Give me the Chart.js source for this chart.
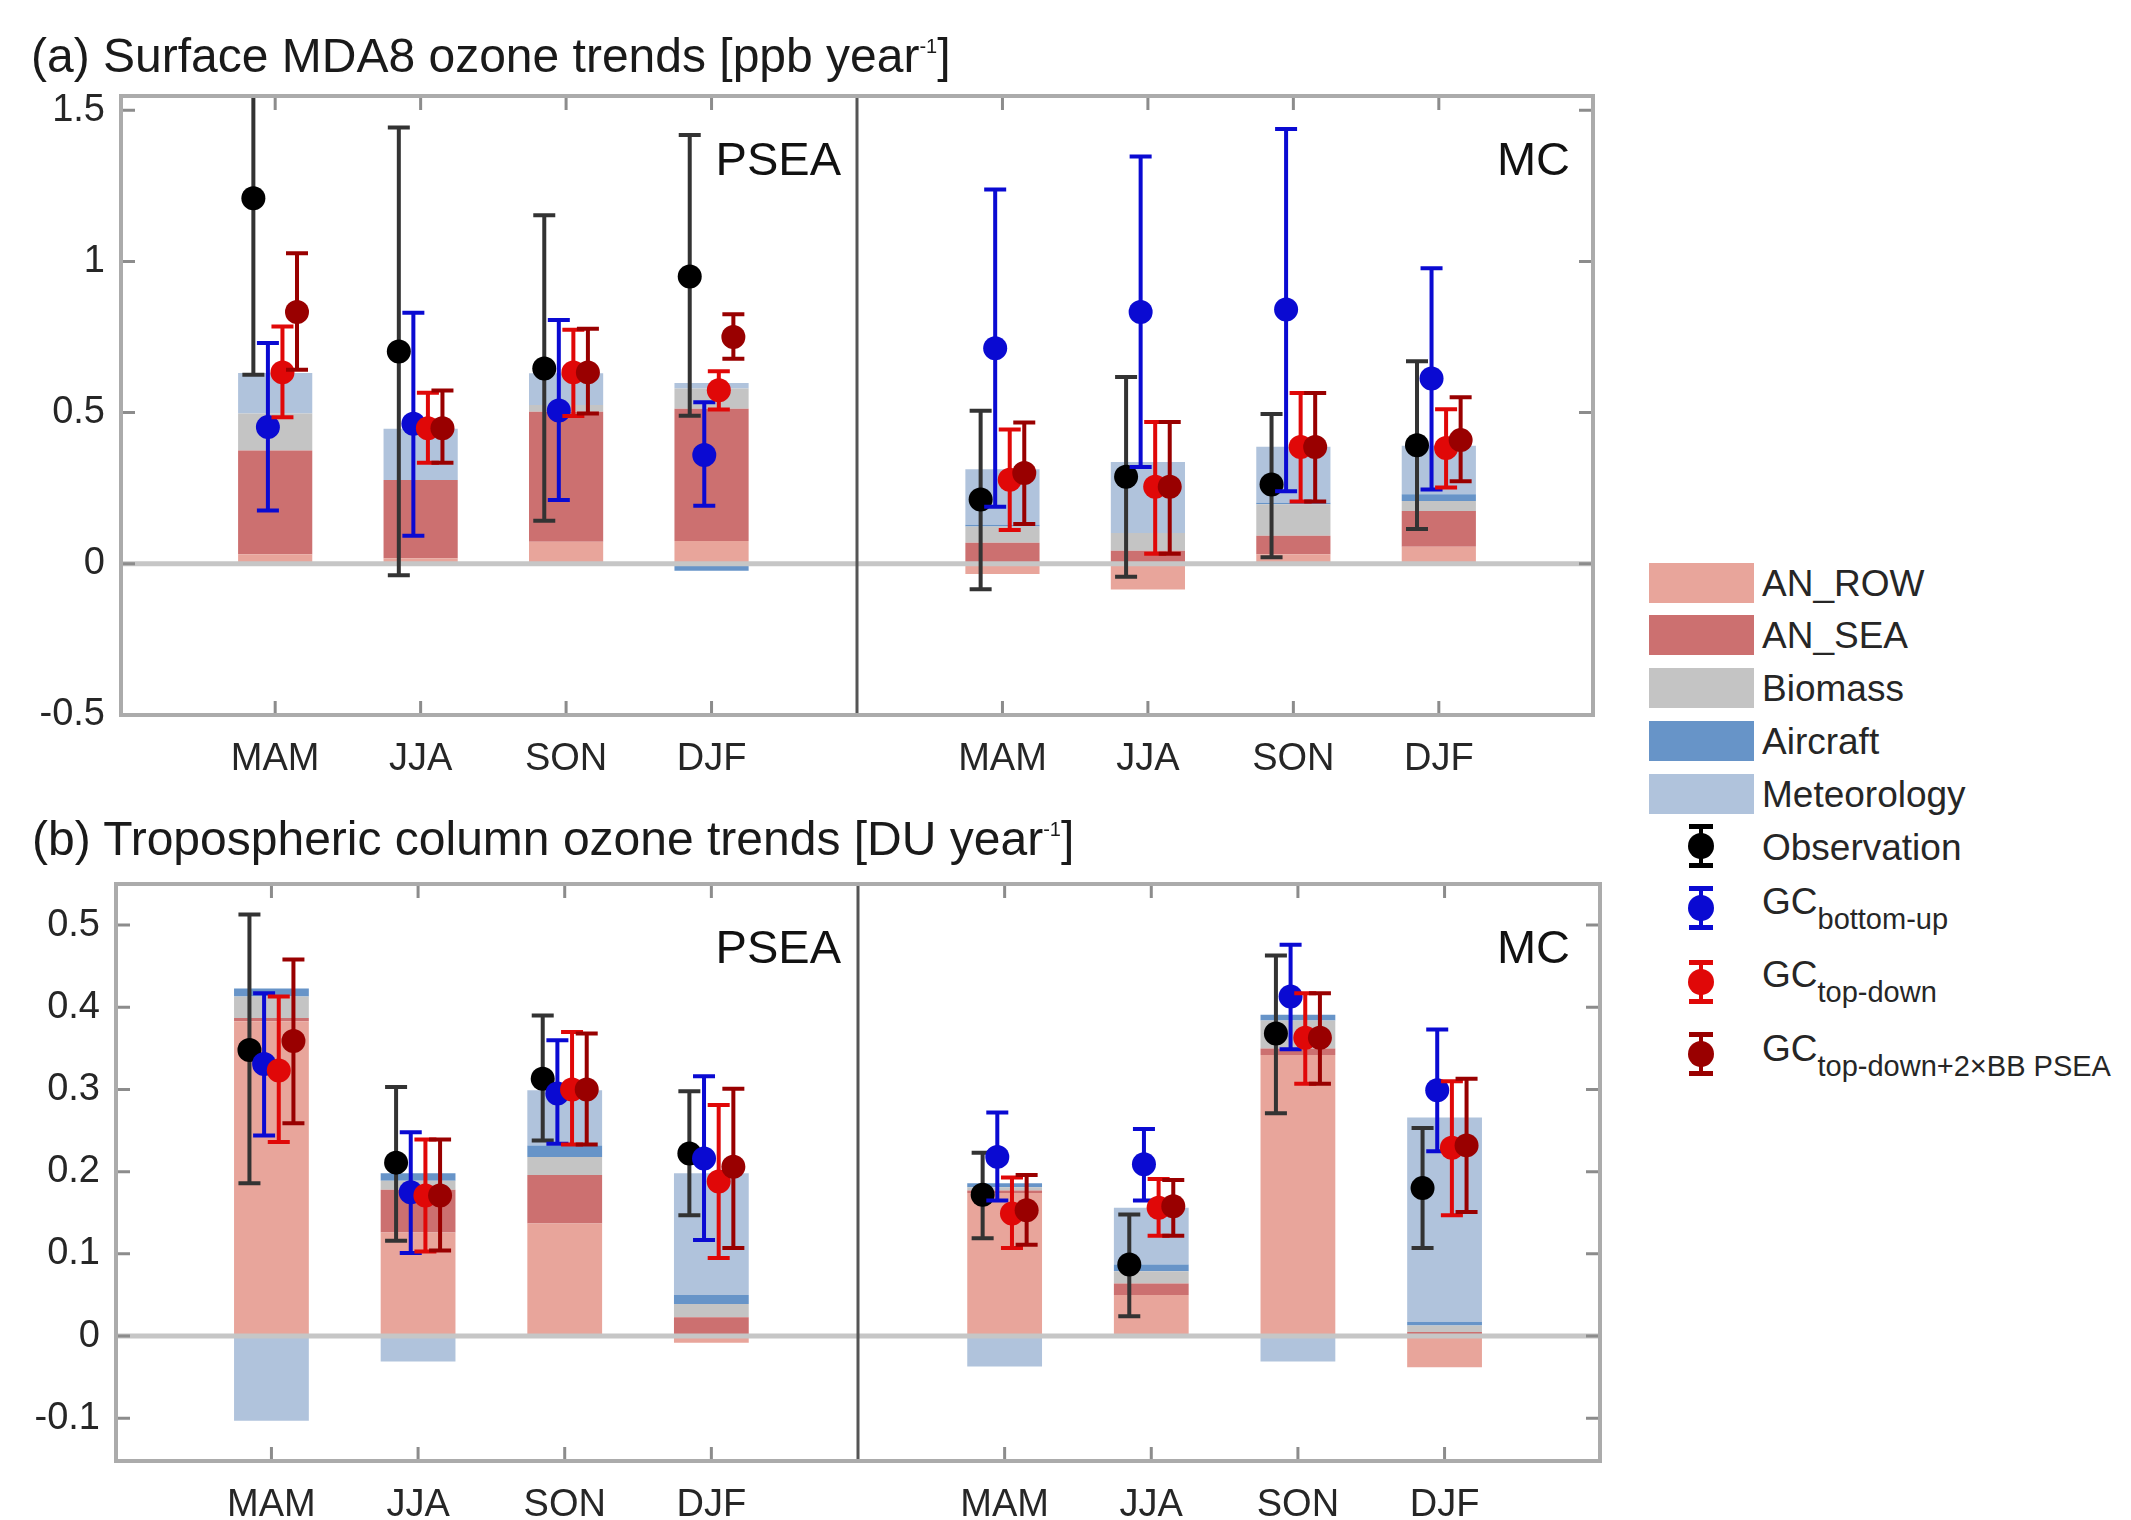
<!DOCTYPE html>
<html>
<head>
<meta charset="utf-8">
<script src="https://cdn.jsdelivr.net/npm/chart.js@4.4.0/dist/chart.umd.min.js"></script>
<style>
body{margin:0;width:2131px;height:1520px;background:#fff;position:relative;overflow:hidden;font-family:"Liberation Sans",Arial,sans-serif;color:#262626}
canvas{position:absolute;left:0}
.t{position:absolute;white-space:nowrap;line-height:1}
.ttl{font-size:48px;color:#1a1a1a}
.ttl span{font-size:20px;position:relative;top:-19px}
.reg{font-size:47px;color:#111}
.sw{position:absolute;left:1649px;width:105px;height:40px}
.lt{position:absolute;left:1762px;font-size:37px;line-height:1;white-space:nowrap}
.lt span{font-size:29px;position:relative;top:15px}
.eb{position:absolute;left:1688px;width:26px;height:44px}
.eb .v{position:absolute;left:11px;top:0;width:4px;height:100%;background:currentColor}
.eb .c{position:absolute;left:1px;width:24px;height:5px;background:currentColor}
.eb .d{position:absolute;left:0;top:9px;width:26px;height:26px;border-radius:50%;background:currentColor}
</style>
</head>
<body>
<canvas id="chartA" width="1640" height="800" style="top:0"></canvas>
<canvas id="chartB" width="1640" height="720" style="top:800px"></canvas>

<div class="t ttl" style="left:31px;top:32px">(a) Surface MDA8 ozone trends [ppb year<span>-1</span>]</div>
<div class="t ttl" style="left:32px;top:815px">(b) Tropospheric column ozone trends [DU year<span>-1</span>]</div>
<div class="t reg" style="right:1290px;top:135px">PSEA</div>
<div class="t reg" style="right:561px;top:135px">MC</div>
<div class="t reg" style="right:1290px;top:923px">PSEA</div>
<div class="t reg" style="right:561px;top:923px">MC</div>

<div id="legend"></div>

<script>
// categories
const seasons = ['MAM', 'JJA', 'SON', 'DJF'];
const regions = ['PSEA', 'MC'];

// (a) surface MDA8 ozone, ppb/yr  -- order: PSEA MAM..DJF, MC MAM..DJF
const anRowA    = [0.032, 0.018, 0.073, 0.075, -0.034, -0.085, 0.032, 0.056];
const anSeaA    = [0.343, 0.259, 0.430, 0.438, 0.070, 0.043, 0.061, 0.119];
const biomassA  = [0.122, 0.000, 0.022, 0.067, 0.053, 0.059, 0.104, 0.033];
const aircraftA = [0.000, 0.000, 0.000, -0.023, 0.006, 0.000, 0.005, 0.022];
const meteoA    = [0.134, 0.170, 0.105, 0.018, 0.184, 0.235, 0.185, 0.160];

const obsA   = [1.209, 0.702, 0.646, 0.950, 0.213, 0.288, 0.262, 0.392];
const obsALo = [0.625, -0.038, 0.142, 0.490, -0.084, -0.043, 0.022, 0.115];
const obsAHi = [1.790, 1.443, 1.153, 1.418, 0.506, 0.618, 0.495, 0.670];
const buA    = [0.452, 0.463, 0.507, 0.360, 0.713, 0.833, 0.841, 0.613];
const buALo  = [0.176, 0.093, 0.211, 0.192, 0.189, 0.320, 0.240, 0.246];
const buAHi  = [0.730, 0.830, 0.806, 0.534, 1.238, 1.347, 1.438, 0.977];
const tdA    = [0.633, 0.448, 0.633, 0.574, 0.278, 0.255, 0.386, 0.383];
const tdALo  = [0.485, 0.334, 0.489, 0.510, 0.112, 0.033, 0.206, 0.252];
const tdAHi  = [0.785, 0.566, 0.774, 0.637, 0.444, 0.469, 0.565, 0.511];
const bbA    = [0.833, 0.448, 0.633, 0.750, 0.300, 0.255, 0.386, 0.409];
const bbALo  = [0.642, 0.334, 0.497, 0.678, 0.132, 0.033, 0.206, 0.273];
const bbAHi  = [1.027, 0.573, 0.777, 0.825, 0.467, 0.469, 0.565, 0.551];

// (b) tropospheric column ozone, DU/yr
const anRowB    = [0.383, 0.126, 0.137, -0.008, 0.174, 0.050, 0.342, -0.038];
const anSeaB    = [0.004, 0.052, 0.059, 0.023, 0.003, 0.014, 0.008, 0.005];
const biomassB  = [0.026, 0.011, 0.022, 0.016, 0.004, 0.015, 0.034, 0.008];
const aircraftB = [0.010, 0.009, 0.014, 0.011, 0.005, 0.008, 0.007, 0.004];
const meteoB    = [-0.103, -0.031, 0.067, 0.148, -0.037, 0.069, -0.031, 0.249];

const obsB   = [0.348, 0.211, 0.313, 0.222, 0.172, 0.087, 0.368, 0.180];
const obsBLo = [0.186, 0.116, 0.238, 0.147, 0.119, 0.024, 0.271, 0.107];
const obsBHi = [0.513, 0.303, 0.390, 0.298, 0.223, 0.148, 0.463, 0.253];
const buB    = [0.331, 0.175, 0.295, 0.216, 0.218, 0.209, 0.413, 0.299];
const buBLo  = [0.244, 0.101, 0.234, 0.117, 0.165, 0.165, 0.349, 0.225];
const buBHi  = [0.417, 0.248, 0.360, 0.316, 0.272, 0.252, 0.476, 0.373];
const tdB    = [0.323, 0.171, 0.300, 0.188, 0.149, 0.156, 0.363, 0.229];
const tdBLo  = [0.236, 0.103, 0.233, 0.095, 0.107, 0.122, 0.307, 0.147];
const tdBHi  = [0.413, 0.239, 0.370, 0.281, 0.193, 0.191, 0.417, 0.310];
const bbB    = [0.359, 0.171, 0.300, 0.206, 0.153, 0.158, 0.363, 0.232];
const bbBLo  = [0.259, 0.104, 0.233, 0.107, 0.111, 0.122, 0.307, 0.151];
const bbBHi  = [0.458, 0.239, 0.368, 0.301, 0.196, 0.190, 0.417, 0.313];

// tick labels
const yTicksA = [-0.5, 0, 0.5, 1, 1.5];
const yTicksB = [-0.1, 0, 0.1, 0.2, 0.3, 0.4, 0.5];
const xTickLabels = regions.flatMap(() => seasons);

// x layout: seasons at 1..4 (PSEA) and 6..9 (MC), divider at 5
const positions = regions.flatMap((r, ri) => seasons.map((s, si) => ri * 5 + si + 1));
const dividerAt = 5;
const xMin = -0.06, xMax = 10.06;
const seriesOffsets = [-0.15, -0.05, 0.05, 0.15];

const components = [
    {label: 'AN_ROW', color: '#e8a59b'},
    {label: 'AN_SEA', color: '#cc7070'},
    {label: 'Biomass', color: '#c4c4c4'},
    {label: 'Aircraft', color: '#6794c8'},
    {label: 'Meteorology', color: '#b0c3dc'}
];
const series = [
    {label: 'Observation', dot: '#000000', line: '#333333'},
    {label: 'GC bottom-up', dot: '#0a0ad2', line: '#0a0ad2'},
    {label: 'GC top-down', dot: '#e00808', line: '#e00808'},
    {label: 'GC top-down+2×BB PSEA', dot: '#990000', line: '#990000'}
];

// whiskers drawn just before each point series
const whiskerPlugin = {
    id: 'whiskers',
    beforeDatasetDraw(chart, args) {
        const ds = chart.data.datasets[args.index];
        if (!ds.lo) return;
        const {ctx, chartArea: a, scales: {x, y}} = chart;
        ctx.save();
        ctx.beginPath();
        ctx.rect(a.left, a.top, a.width, a.height);
        ctx.clip();
        ctx.strokeStyle = ds.whiskerColor;
        ctx.lineWidth = 4;
        ds.data.forEach((p, i) => {
            const px = x.getPixelForValue(p.x);
            const y1 = y.getPixelForValue(ds.lo[i]);
            const y2 = y.getPixelForValue(ds.hi[i]);
            ctx.beginPath();
            ctx.moveTo(px, y1); ctx.lineTo(px, y2);
            ctx.moveTo(px - 11, y1); ctx.lineTo(px + 11, y1);
            ctx.moveTo(px - 11, y2); ctx.lineTo(px + 11, y2);
            ctx.stroke();
        });
        ctx.restore();
    }
};

// box, region divider and inward ticks
const framePlugin = {
    id: 'frame',
    afterDraw(chart) {
        const {ctx, chartArea: a, scales: {x, y}} = chart;
        ctx.save();
        ctx.strokeStyle = '#8c8c8c';
        ctx.lineWidth = 3;
        ctx.beginPath();
        x.ticks.forEach(t => {
            const px = x.getPixelForValue(t.value);
            ctx.moveTo(px, a.top); ctx.lineTo(px, a.top + 14);
            ctx.moveTo(px, a.bottom); ctx.lineTo(px, a.bottom - 14);
        });
        y.ticks.forEach(t => {
            const py = y.getPixelForValue(t.value);
            ctx.moveTo(a.left, py); ctx.lineTo(a.left + 14, py);
            ctx.moveTo(a.right, py); ctx.lineTo(a.right - 14, py);
        });
        ctx.stroke();
        const dx = x.getPixelForValue(dividerAt);
        ctx.strokeStyle = '#555555';
        ctx.beginPath();
        ctx.moveTo(dx, a.top); ctx.lineTo(dx, a.bottom);
        ctx.stroke();
        ctx.strokeStyle = '#ababab';
        ctx.lineWidth = 4;
        ctx.strokeRect(a.left, a.top, a.width, a.height);
        ctx.restore();
    }
};

function buildPanel(canvasId, p) {
    const datasets = [];
    p.comps.forEach((vals, k) => {
        datasets.push({
            type: 'bar', label: components[k].label, stack: 'contrib', order: 10,
            data: vals.map((v, i) => ({x: positions[i], y: v})),
            backgroundColor: components[k].color, borderWidth: 0,
            barPercentage: 0.51, categoryPercentage: 1
        });
    });
    datasets.push({
        type: 'line', label: 'zero', stack: 'zero', order: 5,
        data: [{x: xMin, y: 0}, {x: xMax, y: 0}],
        borderColor: '#c6c6c6', borderWidth: 5, pointRadius: 0
    });
    p.pts.forEach((s, k) => {
        datasets.push({
            type: 'scatter', label: series[k].label, stack: 'pt' + k, order: 4 - k,
            data: s.val.map((v, i) => ({x: positions[i] + seriesOffsets[k], y: v})),
            lo: s.lo, hi: s.hi, whiskerColor: series[k].line,
            pointRadius: 12, pointBackgroundColor: series[k].dot, pointBorderWidth: 0,
            pointHoverRadius: 12
        });
    });

    const tickFont = {family: 'Liberation Sans', size: 38};
    return new Chart(document.getElementById(canvasId), {
        type: 'bar',
        data: {datasets},
        plugins: [whiskerPlugin, framePlugin],
        options: {
            responsive: false,
            animation: false,
            events: [],
            layout: {padding: {left: 0, top: p.padTop, right: p.padRight, bottom: 0}},
            plugins: {legend: {display: false}, tooltip: {enabled: false}},
            scales: {
                x: {
                    type: 'linear', min: xMin, max: xMax, offset: false,
                    afterBuildTicks: s => { s.ticks = positions.map(v => ({value: v})); },
                    afterFit: s => { s.height = p.xAxisHeight; },
                    grid: {display: false, drawTicks: false},
                    border: {display: false},
                    ticks: {
                        autoSkip: false, maxRotation: 0, padding: p.xPad,
                        font: tickFont, color: '#262626',
                        callback: (v, i) => xTickLabels[i]
                    }
                },
                y: {
                    type: 'linear', min: p.yMin, max: p.yMax,
                    afterBuildTicks: s => { s.ticks = p.yTicks.map(v => ({value: v})); },
                    afterFit: s => { s.width = p.yAxisWidth; },
                    grid: {display: false, drawTicks: false},
                    border: {display: false},
                    ticks: {padding: 16, font: tickFont, color: '#262626', callback: v => String(v)}
                }
            }
        }
    });
}

buildPanel('chartA', {
    comps: [anRowA, anSeaA, biomassA, aircraftA, meteoA],
    pts: [
        {val: obsA, lo: obsALo, hi: obsAHi},
        {val: buA, lo: buALo, hi: buAHi},
        {val: tdA, lo: tdALo, hi: tdAHi},
        {val: bbA, lo: bbALo, hi: bbAHi}
    ],
    yMin: -0.5, yMax: 1.547, yTicks: yTicksA,
    padTop: 96, padRight: 47, yAxisWidth: 121, xAxisHeight: 85, xPad: 22
});

buildPanel('chartB', {
    comps: [anRowB, anSeaB, biomassB, aircraftB, meteoB],
    pts: [
        {val: obsB, lo: obsBLo, hi: obsBHi},
        {val: buB, lo: buBLo, hi: buBHi},
        {val: tdB, lo: tdBLo, hi: tdBHi},
        {val: bbB, lo: bbBLo, hi: bbBHi}
    ],
    yMin: -0.152, yMax: 0.55, yTicks: yTicksB,
    padTop: 84, padRight: 40, yAxisWidth: 116, xAxisHeight: 59, xPad: 22
});

// legend (HTML so that subscripts stay real text)
const legend = document.getElementById('legend');
const swatchTops = [563, 615, 668, 721, 774];
components.forEach((c, k) => {
    legend.insertAdjacentHTML('beforeend',
        `<div class="sw" style="top:${swatchTops[k]}px;background:${c.color}"></div>` +
        `<div class="lt" style="top:${swatchTops[k] + 2}px">${c.label}</div>`);
});
const markTops = [824, 886, 960, 1032];
const textTops = [829, 883, 956, 1030];
const legendText = ['Observation', 'GC<span>bottom-up</span>', 'GC<span>top-down</span>', 'GC<span>top-down+2×BB PSEA</span>'];
series.forEach((s, k) => {
    legend.insertAdjacentHTML('beforeend',
        `<div class="eb" style="top:${markTops[k]}px;color:${s.dot}">` +
        `<div class="v"></div><div class="c" style="top:0"></div><div class="c" style="bottom:0"></div><div class="d"></div></div>` +
        `<div class="lt" style="top:${textTops[k]}px">${legendText[k]}</div>`);
});
</script>
</body>
</html>
